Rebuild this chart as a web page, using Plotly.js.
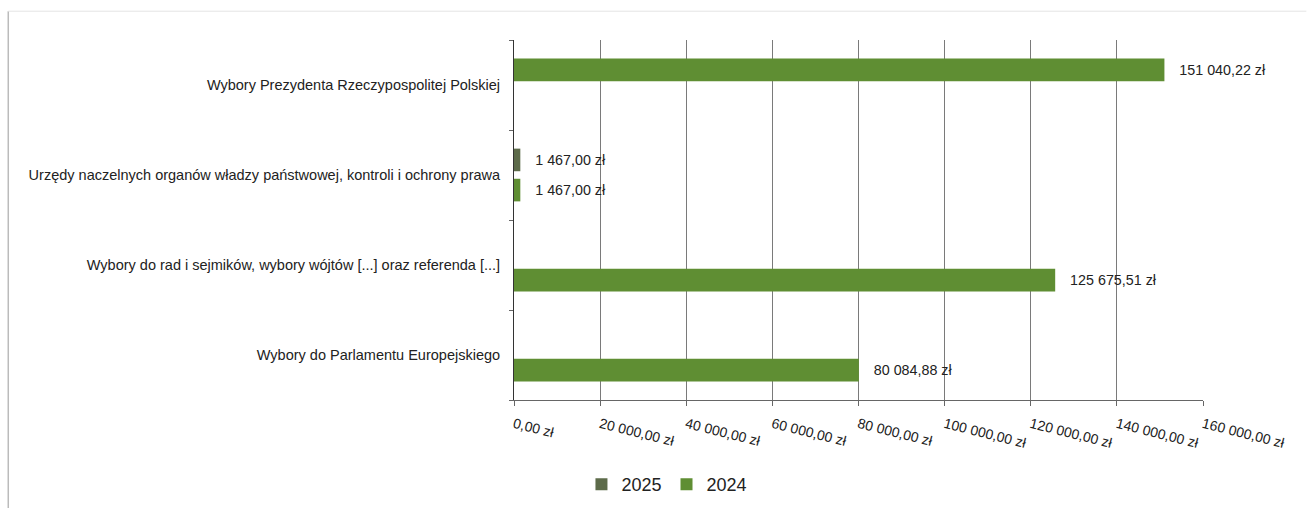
<!DOCTYPE html>
<html>
<head>
<meta charset="utf-8">
<script src="https://cdn.plot.ly/plotly-3.0.1.min.js"></script>
<style>html,body{margin:0;padding:0;background:#fff;}#chart{width:1307px;height:515px;}</style>
</head>
<body>
<div id="chart"></div>
<script>
const categories = [
  'Wybory do Parlamentu Europejskiego',
  'Wybory do rad i sejmików, wybory wójtów [...] oraz referenda [...]',
  'Urzędy naczelnych organów władzy państwowej, kontroli i ochrony prawa',
  'Wybory Prezydenta Rzeczypospolitej Polskiej'
];
const values2025 = [null, null, 1467.00, 151040.22];
const values2024 = [80084.88, 125675.51, 1467.00, null];
const seriesNames = ['2025', '2024'];
const xTicks = [0, 20000, 40000, 60000, 80000, 100000, 120000, 140000, 160000];

function fmtPL(v) {
  const parts = v.toFixed(2).split('.');
  parts[0] = parts[0].replace(/\B(?=(\d{3})+(?!\d))/g, '\u00a0');
  return parts[0] + ',' + parts[1] + ' zł';
}
const xTickText = xTicks.map(fmtPL);

const dark = '#5d6b4a';
const green = '#5f8e33';
const FONT = 'Liberation Sans, Arial, sans-serif';
const textFont = {family: FONT, size: 14.3, color: '#222'};
const pad = '\u00a0\u00a0\u00a0';

const t2024 = {
  type: 'bar', orientation: 'h', name: seriesNames[1],
  y: categories, x: values2024,
  marker: {color: green},
  texttemplate: pad + '%{x:,.2f} zł', textposition: 'outside', cliponaxis: false,
  textfont: textFont, hoverinfo: 'x+y'
};
const t2025 = {
  type: 'bar', orientation: 'h', name: seriesNames[0],
  y: categories, x: values2025,
  marker: {color: [dark, dark, dark, green]},
  texttemplate: pad + '%{x:,.2f} zł', textposition: 'outside', cliponaxis: false,
  textfont: textFont, hoverinfo: 'x+y'
};

const layout = {
  width: 1307, height: 515,
  margin: {l: 514, r: 104, t: 40, b: 110},
  paper_bgcolor: '#fff', plot_bgcolor: '#fff',
  separators: ', ',
  font: {family: FONT, size: 14, color: '#222'},
  barmode: 'group', bargap: 0.33, bargroupgap: 0.25,
  showlegend: true,
  legend: {orientation: 'h', traceorder: 'reversed', x: 0.222, xanchor: 'center', y: -0.235, yanchor: 'middle',
           font: {size: 18, color: '#222'}, itemwidth: 30},
  xaxis: {
    range: [0, 160000], tickmode: 'array', tickvals: xTicks, ticktext: xTickText,
    tickangle: 14, showgrid: true, gridcolor: '#7a7a7a', gridwidth: 1,
    showline: true, linecolor: '#666', ticks: 'outside', ticklen: 5, tickcolor: '#666',
    ticklabelstandoff: 5,
    zeroline: false, tickfont: {size: 14, color: '#222'}, fixedrange: true
  },
  yaxis: {
    type: 'category', showline: true, linecolor: '#333', ticks: 'outside', ticklen: 4, tickcolor: '#666',
    tickson: 'boundaries', showgrid: false, tickfont: {size: 14.5, color: '#222'}, ticklabelstandoff: 10,
    fixedrange: true
  },
  shapes: [
    {type: 'line', xref: 'paper', yref: 'paper', x0: -0.734, x1: -0.734, y0: -0.3, y1: 1.08, line: {color: '#bbb', width: 1.5}},
    {type: 'line', xref: 'paper', yref: 'paper', x0: -0.734, x1: 1.15, y0: 1.08, y1: 1.08, line: {color: '#e4e4e4', width: 1}}
  ]
};

Plotly.newPlot('chart', [t2024, t2025], layout, {displayModeBar: false, staticPlot: true});
</script>
</body>
</html>
